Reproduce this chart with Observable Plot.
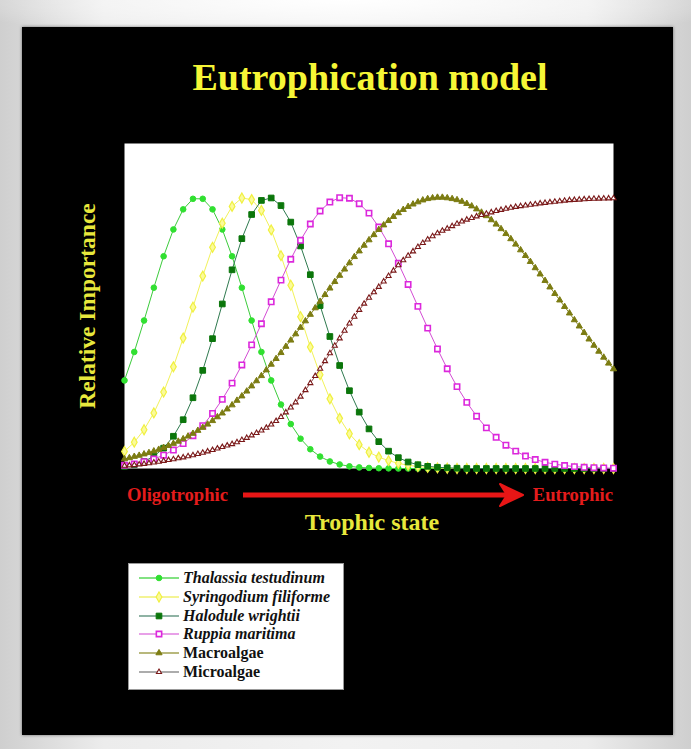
<!DOCTYPE html>
<html>
<head>
<meta charset="utf-8">
<script src="https://cdn.jsdelivr.net/npm/d3@7"></script>
<script src="https://cdn.jsdelivr.net/npm/@observablehq/plot@0.6"></script>
<style>
  html, body { margin: 0; padding: 0; }
  body {
    width: 691px; height: 749px; overflow: hidden; position: relative;
    background: radial-gradient(ellipse 60% 40px at 50% 0px, #ffffff 0%, rgba(255,255,255,0) 100%),
                linear-gradient(to right, #cfcfcf 0%, #ececec 15%, #f2f2f2 50%, #ececec 85%, #cfcfcf 100%);
    font-family: "Liberation Serif", "DejaVu Serif", serif;
  }
  #panel { position: absolute; left: 22px; top: 27px; width: 651px; height: 708px; background: #000; box-shadow: 0 0 3px rgba(0,0,0,0.5); }
  .txt { position: absolute; font-family: "Liberation Serif", serif; font-weight: bold; white-space: nowrap; line-height: 1; }
  #title { left: 370px; top: 77px; transform: translate(-50%, -50%); font-size: 38px; color: #f6f636; }
  #ylabel { left: 88px; top: 306px; transform: translate(-50%, -50%) rotate(-90deg); font-size: 23.5px; color: #e8e83c; }
  #olig { left: 127px; top: 495px; transform: translateY(-50%); font-size: 18.6px; color: #e41c1c; }
  #eutr { left: 613px; top: 495px; transform: translate(-100%, -50%); font-size: 18.6px; color: #e41c1c; }
  #xlabel { left: 372px; top: 522px; transform: translate(-50%, -50%); font-size: 24px; color: #e8e83c; }
  #chart { position: absolute; left: 114px; top: 133px; }
  #chart svg { overflow: visible; }
  #arrow { position: absolute; left: 0; top: 0; }
  #legend { position: absolute; left: 128px; top: 563px; width: 216px; height: 127px; background: #fff; border: 1px solid #999; box-sizing: border-box; }
  .lrow { position: absolute; left: 8px; height: 18px; display: flex; align-items: center; }
  .lrow span { font-family: "Liberation Serif", serif; font-weight: bold; font-size: 16px; color: #111; margin-left: 2px; white-space: nowrap; }
</style>
</head>
<body>
<div id="panel"></div>
<div id="title" class="txt">Eutrophication model</div>
<div id="ylabel" class="txt">Relative Importance</div>
<div id="chart"></div>
<div id="olig" class="txt">Oligotrophic</div>
<svg id="arrow" width="691" height="749">
  <line x1="243" y1="495" x2="512" y2="495" stroke="#e81616" stroke-width="5"/>
  <path d="M 500 484 L 523 495 L 500 506 L 507 495 Z" fill="#e81616" stroke="#e81616" stroke-width="2" stroke-linejoin="round"/>
</svg>
<div id="eutr" class="txt">Eutrophic</div>
<div id="xlabel" class="txt">Trophic state</div>
<div id="legend"></div>
<script>
// ---- data ----
// seagrass curves sampled every 2 units of trophic state; algae curves every 1 unit (denser markers)
const trophicState = [0,2,4,6,8,10,12,14,16,18,20,22,24,26,28,30,32,34,36,38,40,42,44,46,48,50,52,54,56,58,60,62,64,66,68,70,72,74,76,78,80,82,84,86,88,90,92,94,96,98,100];
const trophicStateFine = [0,1,2,3,4,5,6,7,8,9,10,11,12,13,14,15,16,17,18,19,20,21,22,23,24,25,26,27,28,29,30,31,32,33,34,35,36,37,38,39,40,41,42,43,44,45,46,47,48,49,50,51,52,53,54,55,56,57,58,59,60,61,62,63,64,65,66,67,68,69,70,71,72,73,74,75,76,77,78,79,80,81,82,83,84,85,86,87,88,89,90,91,92,93,94,95,96,97,98,99,100];
const seriesNames = ["Thalassia testudinum","Syringodium filiforme","Halodule wrightii","Ruppia maritima","Macroalgae","Microalgae"];
const thalassia = [32.5,43.0,54.6,66.7,78.3,88.2,95.6,99.5,99.5,95.6,88.2,78.3,66.7,54.6,43.0,32.5,23.6,16.4,11.0,7.1,4.4,2.6,1.5,0.8,0.4,0.2,0.1,0.05,0,0,0,0,0,0,0,0,0,0,0,0,0,0,0,0,0,0,0,0,0,0,0];
const syringodium = [6.3,9.7,14.3,20.5,28.2,37.5,48.1,59.5,71.0,81.6,90.5,96.7,99.8,99.2,95.2,88.0,78.5,67.6,56.0,44.8,34.6,25.7,18.5,12.8,8.8,6.0,4.2,2.9,1.9,1.2,0.7,0.4,0.2,0.1,0,0,0,0,0,0,0,0,0,0,0,0,0,0,0,0,0];
const halodule = [0.75,1.4,2.6,4.5,7.5,11.9,18.0,26.1,36.2,47.9,60.7,73.3,84.8,93.7,98.9,99.8,97.0,90.9,82.1,71.5,60.1,48.7,38.0,28.7,20.8,14.6,9.9,6.4,4.0,2.4,1.4,0.8,0.45,0.25,0.1,0,0,0,0,0,0,0,0,0,0,0,0,0,0,0,0];
const ruppia = [1.2,1.7,2.5,3.5,4.9,6.8,9.2,12.1,15.8,20.3,25.5,31.5,38.2,45.6,53.4,61.5,69.5,77.2,84.2,90.2,95.0,98.3,99.9,99.7,97.7,94.2,89.1,82.9,75.7,67.9,59.8,51.8,44.1,36.8,30.2,24.4,19.3,15.0,11.5,8.6,6.4,4.6,3.3,2.3,1.6,1.1,0.7,0.45,0.3,0.2,0.1];
const macroalgae = [3.5,3.9,4.4,4.8,5.3,5.8,6.4,7.0,7.7,8.4,9.2,10.0,10.9,11.9,12.9,14.0,15.1,16.3,17.6,19.0,20.4,21.9,23.4,25.1,26.7,28.5,30.4,32.3,34.2,36.3,38.4,40.5,42.7,45.0,47.3,49.6,52.0,54.4,56.8,59.2,61.6,64.1,66.5,68.9,71.2,73.5,75.8,78.1,80.2,82.3,84.3,86.2,88.1,89.8,91.4,92.9,94.3,95.5,96.6,97.5,98.3,99.0,99.5,99.8,100.0,100.0,99.8,99.5,99.1,98.5,97.7,96.8,95.7,94.5,93.2,91.7,90.1,88.4,86.6,84.7,82.7,80.6,78.5,76.3,74.0,71.7,69.3,66.9,64.5,62.1,59.7,57.3,54.8,52.5,50.1,47.7,45.4,43.2,41.0,38.8,36.7];
const microalgae = [1.0,1.15,1.3,1.5,1.7,1.95,2.2,2.5,2.8,3.1,3.4,3.75,4.1,4.5,4.9,5.35,5.8,6.3,6.8,7.35,7.9,8.45,9.0,9.7,10.5,11.3,12.2,13.1,14.0,15.0,16.2,17.5,19.0,20.7,22.5,24.4,26.5,28.9,31.5,34.1,36.8,39.6,42.5,45.3,48.0,50.8,53.5,56.0,58.5,60.8,63.0,65.0,67.0,69.0,71.0,73.0,75.0,76.8,78.5,80.1,81.7,83.2,84.5,85.7,86.8,87.7,88.5,89.4,90.3,91.1,91.8,92.4,93.0,93.5,94.0,94.5,95.0,95.4,95.8,96.2,96.5,96.8,97.0,97.3,97.5,97.8,98.0,98.2,98.4,98.6,98.8,99.0,99.1,99.2,99.3,99.4,99.5,99.55,99.6,99.65,99.7];
const seriesValues = [thalassia, syringodium, halodule, ruppia, macroalgae, microalgae];
const seriesX = [trophicState, trophicState, trophicState, trophicState, trophicStateFine, trophicStateFine];

// ---- styles ----
const styles = [
  {color: "#30e030", line: "#3ccc3c", symbol: "circle",   fill: "#30e030", r: 2.8, sw: 1,   italic: true,  legLine: "#58d858"},
  {color: "#f0f040", line: "#f2f25a", symbol: "diamond",  fill: "#fbfb9a", r: 3.0, sw: 1.2, italic: true,  legLine: "#f0f070"},
  {color: "#0b760b", line: "#2f7a4f", symbol: "square",   fill: "#0b760b", r: 3.2, sw: 1,   italic: true,  legLine: "#6a9a86"},
  {color: "#dc28dc", line: "#d44cd4", symbol: "square",   fill: "#ffffff", r: 3.0, sw: 1.6, italic: true,  legLine: "#e080e0"},
  {color: "#7c7c12", line: "#8a8a28", symbol: "triangle", fill: "#7c7c12", r: 2.3, sw: 1,   italic: false, legLine: "#a0a050"},
  {color: "#7a1818", line: "#8a4848", symbol: "triangle", fill: "#ffffff", r: 1.9, sw: 1.1, italic: false, legLine: "#909090"}
];

const table = seriesNames.flatMap((name, i) =>
  seriesX[i].map((x, j) => ({series: name, x, y: seriesValues[i][j]})));

const marks = [Plot.frame({fill: "white", stroke: "none"})];
seriesNames.forEach((name, i) => {
  const s = styles[i];
  const d = table.filter(r => r.series === name);
  marks.push(Plot.line(d, {x: "x", y: "y", stroke: s.line, strokeWidth: 1, curve: "linear"}));
  marks.push(Plot.dot(d, {x: "x", y: "y", symbol: s.symbol, r: s.r, fill: s.fill, stroke: s.color, strokeWidth: s.sw}));
});

const chart = Plot.plot({
  width: 509, height: 345,
  marginTop: 10, marginBottom: 10, marginLeft: 10, marginRight: 10,
  x: {domain: [0, 100], axis: null},
  y: {domain: [0, 119.9], axis: null},
  style: {background: "transparent", overflow: "visible"},
  marks
});
document.getElementById("chart").appendChild(chart);

// ---- legend ----
const symMap = {circle: d3.symbolCircle, diamond: d3.symbolDiamond, square: d3.symbolSquare, triangle: d3.symbolTriangle};
const legend = d3.select("#legend");
seriesNames.forEach((name, i) => {
  const s = styles[i];
  const row = legend.append("div").attr("class", "lrow").style("top", (5 + i * 18.8) + "px");
  const svg = row.append("svg").attr("width", 44).attr("height", 18);
  svg.append("line").attr("x1", 2).attr("x2", 42).attr("y1", 9).attr("y2", 9).attr("stroke", s.legLine).attr("stroke-width", 1.3);
  svg.append("path").attr("transform", "translate(22,9)")
    .attr("d", d3.symbol(symMap[s.symbol], Math.PI * s.r * s.r)())
    .attr("fill", s.fill).attr("stroke", s.color).attr("stroke-width", s.sw);
  row.append("span").style("font-style", s.italic ? "italic" : "normal").text(name);
});
</script>
</body>
</html>
